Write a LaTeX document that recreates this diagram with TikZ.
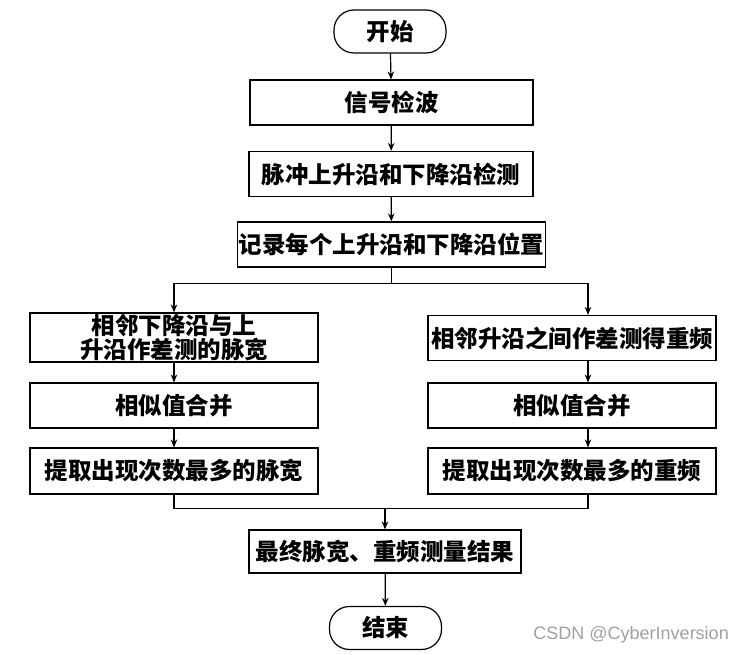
\documentclass[tikz,border=0pt]{standalone}
\usepackage{fontspec}
\setmainfont{Noto Sans CJK SC}
\newfontfamily\wmfont{Liberation Sans}
\usepackage{tikz}
\usetikzlibrary{positioning}
\usetikzlibrary{calc}
\usetikzlibrary{arrows.meta}
\definecolor{wmgray}{RGB}{160,160,160}
\tikzset{%
  flowarrow/.style = {-{Stealth[length=8pt,width=6.5pt]},line width=1.2pt},
  flowline/.style = {line width=1.2pt},
  term/.style = {rectangle,draw,line width=1.2pt,rounded corners=20pt,
        minimum width=112pt,minimum height=43pt,inner sep=0pt},
  proc/.style = {rectangle,draw,line width=1.2pt,align=center,
        minimum height=45pt,inner sep=1pt}
}

\begin{document}
\begin{tikzpicture}[x=1pt,y=-1pt,font=\fontsize{23.5}{27}\selectfont\bfseries]
    \useasboundingbox (0,0) rectangle (742,655);
    \node[term] (start) at (390,31.5) {开始};
    \node[proc,minimum width=283pt] (detect) at (391.5,102.5) {信号检波};
    \node[proc,minimum width=284pt] (edge) at (391,174) {脉冲上升沿和下降沿检测};
    \node[proc,minimum width=307pt] (record) at (391.5,244.5) {记录每个上升沿和下降沿位置};
    \node[proc,minimum width=288pt,minimum height=49pt,
          font=\fontsize{23.5}{24}\selectfont\bfseries] (pw1) at (174,337.5) {相邻下降沿与上\\升沿作差测的脉宽};
    \node[proc,minimum width=288pt] (pri1) at (572,338) {相邻升沿之间作差测得重频};
    \node[proc,minimum width=288pt] (pw2) at (174,405.5) {相似值合并};
    \node[proc,minimum width=288pt] (pri2) at (572,405.5) {相似值合并};
    \node[proc,minimum width=288pt,minimum height=46pt] (pw3) at (174,471) {提取出现次数最多的脉宽};
    \node[proc,minimum width=288pt,minimum height=46pt] (pri3) at (572,471) {提取出现次数最多的重频};
    \node[proc,minimum width=272pt,minimum height=43pt] (result) at (385,551.5) {最终脉宽、重频测量结果};
    \node[term] (end) at (385.5,628) {结束};
    % watermark
    \node[font=\wmfont\fontsize{18}{20}\selectfont,text=wmgray,anchor=east,inner sep=0pt]
        (mark) at (729,635) {CSDN @CyberInversion};

    \draw[flowarrow] (start) -- (detect);
    \draw[flowarrow] (detect) -- (edge);
    \draw[flowarrow] (edge) -- (record);
    % split into two columns
    \draw[flowline] (record.south) -- ++(0,16) coordinate (split);
    \draw[flowarrow] (split) -| (pw1.north);
    \draw[flowarrow] (split) -| ([xshift=16pt]pri1.north);
    \draw[flowarrow] (pw1) -- (pw2);
    \draw[flowarrow] (pw2) -- (pw3);
    \draw[flowarrow] ([xshift=16pt]pri1.south) -- ([xshift=16pt]pri2.north);
    \draw[flowarrow] ([xshift=16pt]pri2.south) -- ([xshift=16pt]pri3.north);
    % merge the two columns
    \draw[flowline] (pw3.south) -- ++(0,14) coordinate (merge)
        -| ([xshift=16pt]pri3.south);
    \draw[flowarrow] (merge -| result.north) -- (result.north);
    \draw[flowarrow] (result) -- (end);
\end{tikzpicture}
\end{document}
